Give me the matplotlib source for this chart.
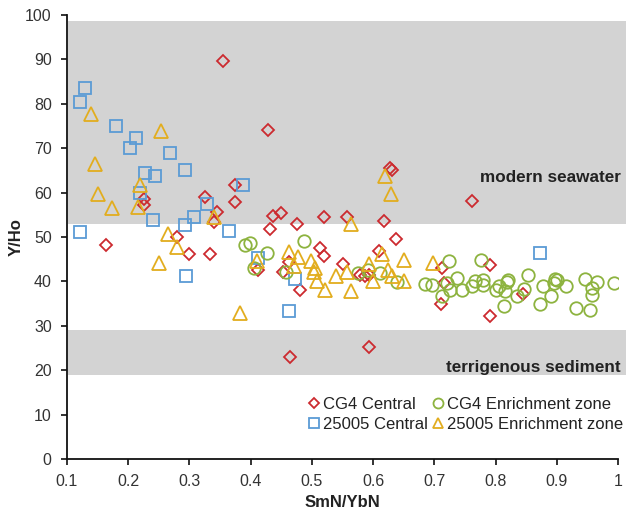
import matplotlib
matplotlib.use("Agg")
import matplotlib.pyplot as plt
from matplotlib.patches import Rectangle

plt.rcParams['font.family'] = ['Liberation Sans', 'DejaVu Sans']

# ---- data ----
cg4_central_x = [0.355, 0.428, 0.628, 0.631, 0.375, 0.326, 0.375, 0.226, 0.226, 0.345,
                 0.340, 0.436, 0.449, 0.475, 0.520, 0.557, 0.618, 0.432, 0.163, 0.279,
                 0.300, 0.333, 0.513, 0.520, 0.638, 0.609, 0.462, 0.453, 0.412, 0.480,
                 0.550, 0.579, 0.586, 0.594, 0.712, 0.715, 0.711, 0.465, 0.594, 0.761,
                 0.791, 0.845, 0.791]
cg4_central_y = [89.7, 74.2, 65.6, 65.1, 61.6, 58.9, 57.9, 58.5, 57.2, 55.7,
                 53.3, 54.8, 55.3, 53.0, 54.5, 54.5, 53.5, 51.8, 48.2, 49.9,
                 46.1, 46.1, 47.6, 45.7, 49.6, 46.8, 44.3, 42.1, 42.6, 38.1,
                 43.9, 41.5, 41.3, 41.5, 43.0, 39.6, 35.0, 22.9, 25.2, 58.1,
                 43.6, 37.2, 32.3]

cg4_enrich_x = [0.390, 0.399, 0.427, 0.487, 0.405, 0.457, 0.575, 0.591, 0.612, 0.639,
                0.685, 0.697, 0.720, 0.724, 0.777, 0.737, 0.726, 0.712, 0.745, 0.761,
                0.766, 0.780, 0.780, 0.801, 0.805, 0.815, 0.818, 0.821, 0.813, 0.835,
                0.853, 0.877, 0.890, 0.873, 0.897, 0.901, 0.896, 0.915, 0.946, 0.966,
                0.957, 0.957, 0.931, 0.955, 0.993, 0.847]
cg4_enrich_y = [48.1, 48.6, 46.4, 49.1, 43.0, 42.2, 41.9, 42.6, 41.9, 39.8,
                39.4, 39.3, 39.6, 44.5, 44.9, 40.7, 38.1, 36.6, 38.1, 39.0,
                40.2, 40.4, 39.3, 38.1, 39.0, 37.8, 39.8, 40.4, 34.4, 36.8,
                41.5, 38.9, 36.6, 35.0, 40.6, 40.4, 39.6, 39.0, 40.6, 39.8,
                38.5, 37.0, 34.1, 33.5, 39.6, 38.3]

c25005_central_x = [0.129, 0.122, 0.180, 0.212, 0.203, 0.268, 0.293, 0.228, 0.244, 0.219,
                    0.387, 0.329, 0.308, 0.293, 0.241, 0.122, 0.364, 0.412, 0.295, 0.472,
                    0.463, 0.872]
c25005_central_y = [83.6, 80.4, 74.9, 72.2, 70.0, 69.0, 65.0, 64.4, 63.8, 60.0,
                    61.6, 57.4, 54.4, 52.6, 53.9, 51.1, 51.4, 45.2, 41.3, 40.5,
                    33.4, 46.5]

c25005_enrich_x = [0.140, 0.254, 0.145, 0.151, 0.174, 0.219, 0.216, 0.340, 0.265, 0.279,
                   0.250, 0.382, 0.619, 0.630, 0.564, 0.410, 0.462, 0.478, 0.470, 0.499,
                   0.505, 0.504, 0.508, 0.521, 0.540, 0.557, 0.564, 0.594, 0.600, 0.614,
                   0.625, 0.631, 0.651, 0.650, 0.698]
c25005_enrich_y = [77.8, 73.8, 66.4, 59.6, 56.5, 61.7, 56.7, 54.6, 50.6, 47.7,
                   44.1, 32.9, 63.8, 59.6, 52.9, 44.5, 46.7, 45.6, 43.4, 44.6,
                   43.1, 42.2, 40.2, 38.1, 41.2, 42.2, 37.9, 43.9, 40.2, 46.1,
                   42.6, 41.3, 44.9, 40.2, 44.1]

seawater_band = (53.0, 98.6)
sediment_band = (18.9, 29.0)

x_ticks = [0.1, 0.2, 0.3, 0.4, 0.5, 0.6, 0.7, 0.8, 0.9, 1.0]
x_tick_labels = ["0.1", "0.2", "0.3", "0.4", "0.5", "0.6", "0.7", "0.8", "0.9", "1"]
y_ticks = [0, 10, 20, 30, 40, 50, 60, 70, 80, 90, 100]

# ---- colours ----
RED = '#CC2A2F'
BLUE = '#5B9BD5'
YELLOW = '#E2AD1E'
GREEN = '#8DB33F'
GRAY = '#D3D3D3'

fig = plt.figure(figsize=(6.26, 5.12), dpi=100)
ax = fig.add_axes([67/626, 53/512, 551/626, 444/512])

for lo, hi in (seawater_band, sediment_band):
    ax.add_patch(Rectangle((0.1015, lo), 1.015 - 0.1015, hi - lo, facecolor=GRAY,
                           edgecolor='none', zorder=0, clip_on=False))

ax.plot(cg4_central_x, cg4_central_y, linestyle='none', marker='D', ms=6.2,
        mfc='none', mec=RED, mew=1.3, label='CG4 Central', zorder=3)
ax.plot(c25005_central_x, c25005_central_y, linestyle='none', marker='s', ms=9,
        mfc='none', mec=BLUE, mew=1.3, label='25005 Central', zorder=3)
ax.plot(cg4_enrich_x, cg4_enrich_y, linestyle='none', marker='o', ms=9,
        mfc='none', mec=GREEN, mew=1.3, label='CG4 Enrichment zone', zorder=3)
ax.plot(c25005_enrich_x, c25005_enrich_y, linestyle='none', marker='^', ms=9.5,
        mfc='none', mec=YELLOW, mew=1.3, label='25005 Enrichment zone', zorder=3)

ax.set_xlim(0.1, 1.0)
ax.set_ylim(0, 100)
ax.set_xticks(x_ticks)
ax.set_xticklabels(x_tick_labels)
ax.set_yticks(y_ticks)
ax.tick_params(direction='out', length=4, width=1.2, labelsize=11.5,
               color='#111111', labelcolor='#333333', pad=7)
for s in ('top', 'right'):
    ax.spines[s].set_visible(False)
for s in ('left', 'bottom'):
    ax.spines[s].set_linewidth(1.3)
    ax.spines[s].set_color('#111111')

ax.set_xlabel('SmN/YbN', fontsize=12, fontweight='bold', labelpad=4, color='#222222')
ax.set_ylabel('Y/Ho', fontsize=12, fontweight='bold', labelpad=1, color='#222222')

ax.text(1.004, 63.3, 'modern seawater', fontsize=12.3, fontweight='bold',
        ha='right', va='center', color='#222222')
ax.text(1.004, 20.5, 'terrigenous sediment', fontsize=12.3, fontweight='bold',
        ha='right', va='center', color='#222222')

handles, labels = ax.get_legend_handles_labels()
leg = ax.legend(handles, labels, ncol=2, loc='lower right', bbox_to_anchor=(1.03, 0.035),
                frameon=False, fontsize=12, markerscale=0.8, handlelength=0.6,
                handletextpad=0.25, columnspacing=0.3, labelspacing=0.3,
                borderpad=0.2)
for t in leg.get_texts():
    t.set_color('#222222')

fig.savefig('out.png', dpi=100)
